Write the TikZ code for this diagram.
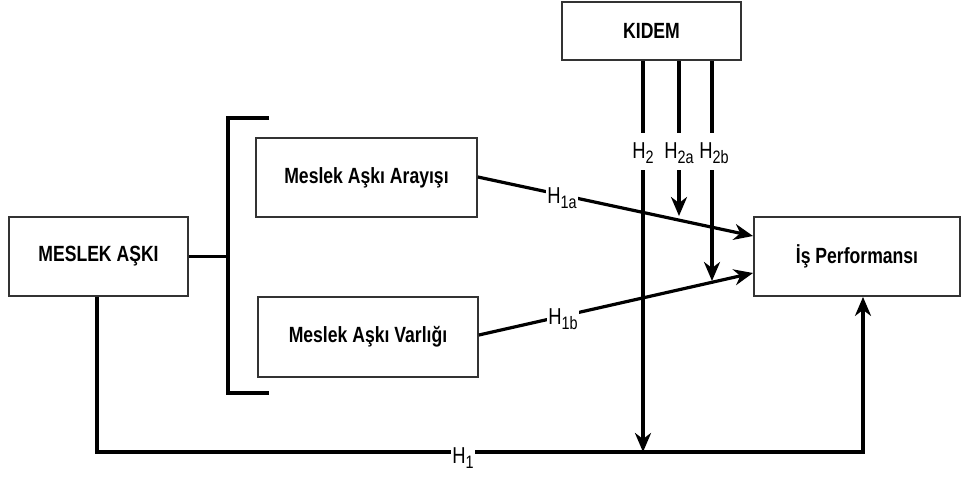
\documentclass[tikz,border=0pt]{standalone}
\usepackage{fontspec}
\setmainfont[FakeStretch=0.8]{Liberation Sans}
\usetikzlibrary{arrows.meta}
\newcommand\hyp[1]{H\raisebox{-5pt}{\fontsize{18}{20}\selectfont #1}}
\tikzset{
  box/.style={draw=black!80, line width=1.8pt, fill=white, inner sep=0pt,
    font=\fontsize{22}{26}\selectfont\bfseries},
  conn/.style={line width=3.2pt, black},
  tip/.style={-{Stealth[length=19pt,width=16pt,inset=6pt]}},
  hlab/.style={fill=white, inner sep=1.5pt, font=\fontsize{23}{26}\selectfont}
}
\begin{document}
\begin{tikzpicture}[x=1pt,y=-1pt]
\useasboundingbox (0,0) rectangle (968,477);

% boxes
\node[box, minimum width=179pt, minimum height=58pt] (kidem) at (651.5,31) {KIDEM};
\node[box, minimum width=179pt, minimum height=79pt] (ask) at (98.5,256.5) {MESLEK AŞKI};
\node[box, minimum width=221pt, minimum height=79pt] (arayis) at (366.5,177.5) {Meslek Aşkı Arayışı};
\node[box, minimum width=220pt, minimum height=80pt] (varlik) at (368,337) {Meslek Aşkı Varlığı};
\node[box, minimum width=206pt, minimum height=79pt] (perf) at (857,256.5) {İş Performansı};

% bracket joining the two dimensions
\coordinate (brtop) at (269,118);
\coordinate (brbot) at (269,393);
\coordinate (brmid) at (228,256.5);
\draw[conn] (brtop) -- (228,118) -- (228,393) -- (brbot);
\draw[conn] (ask.east) -- (brmid);

% direct path H1
\coordinate (bl) at (97,452);
\coordinate (br) at (863,452);
\draw[conn, tip] (ask.south -| bl) -- (bl) -- (br) -- (perf.south -| br);
\node[hlab] (h1) at (463,458) {\hyp{1}};

% dimension paths H1a, H1b
\coordinate (ta) at (753,236);
\coordinate (tb) at (753,273);
\draw[conn, tip] (arayis.east |- 0,177) -- (ta);
\draw[conn, tip] (varlik.east |- 0,335) -- (tb);
\node[hlab] (h1alab) at (562,198) {\hyp{1a}};
\node[hlab] (h1blab) at (563,319) {\hyp{1b}};

% moderator paths from KIDEM
\node[hlab] (h2) at (643,153) {\hyp{2}};
\node[hlab] (h2a) at (679,153) {\hyp{2a}};
\node[hlab] (h2b) at (714,153) {\hyp{2b}};
\coordinate (e2a) at (679,216);
\coordinate (e2b) at (712,281);
\draw[conn] (kidem.south -| h2) -- (643,133);
\draw[conn, tip] (643,170) -- (h2 |- bl);
\draw[conn] (kidem.south -| e2a) -- (679,133);
\draw[conn, tip] (679,170) -- (e2a);
\draw[conn] (kidem.south -| e2b) -- (712,133);
\draw[conn, tip] (712,170) -- (e2b);
\end{tikzpicture}
\end{document}
